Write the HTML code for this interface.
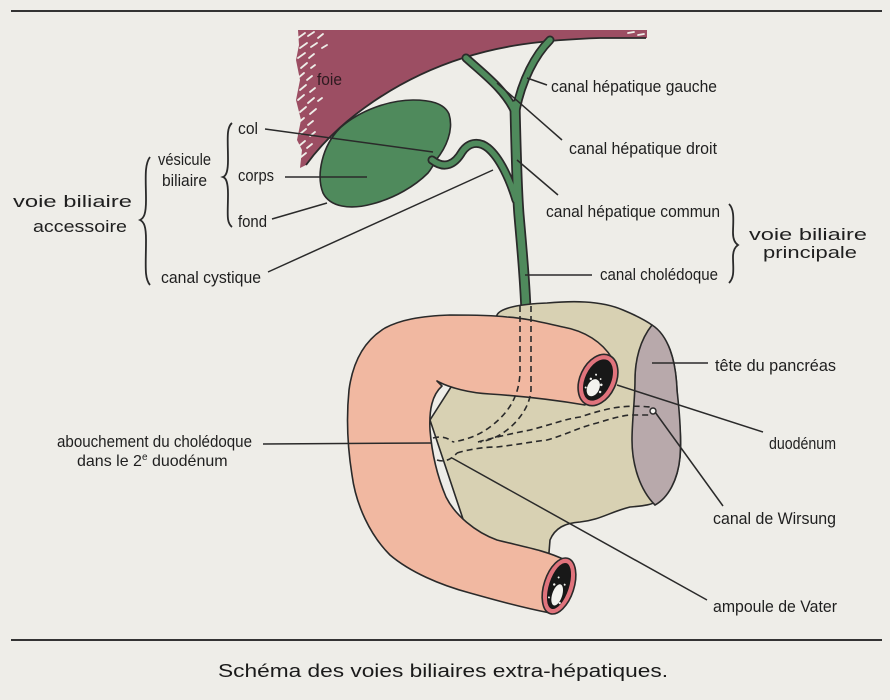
<!DOCTYPE html>
<html><head><meta charset="utf-8"><style>
html,body{margin:0;padding:0;background:#eeede8;}
svg{display:block;}
text{font-family:"Liberation Sans",sans-serif;fill:#1f1f1f;}
.l{font-size:17px;}
.b{font-size:17px;}
</style></head><body>
<svg width="890" height="700" viewBox="0 0 890 700" xmlns="http://www.w3.org/2000/svg">
<rect width="890" height="700" fill="#eeede8"/>
<line x1="11" y1="11" x2="882" y2="11" stroke="#333" stroke-width="2"/>
<line x1="11" y1="640" x2="882" y2="640" stroke="#333" stroke-width="2"/>

<!-- liver -->
<path d="M298,30 L647,30 L647,38 L600,38 C540,40 500,46 463,58 C400,78 340,118 306,165 L300,168 L302,150 L297,140 L301,120 L296,100 L300,80 L296,60 L299,45 Z" fill="#9c4e63"/>
<g stroke="#eeede8" stroke-width="1.8" stroke-linecap="round">
<line x1="298" y1="38" x2="305" y2="33"/><line x1="308" y1="36" x2="314" y2="32"/><line x1="318" y1="38" x2="323" y2="34"/>
<line x1="300" y1="48" x2="307" y2="43"/><line x1="311" y1="47" x2="317" y2="43"/><line x1="322" y1="48" x2="327" y2="45"/>
<line x1="298" y1="58" x2="305" y2="53"/><line x1="309" y1="58" x2="314" y2="54"/>
<line x1="301" y1="68" x2="307" y2="63"/><line x1="311" y1="68" x2="315" y2="65"/>
<line x1="298" y1="78" x2="304" y2="73"/><line x1="307" y1="80" x2="312" y2="76"/>
<line x1="300" y1="90" x2="306" y2="85"/><line x1="310" y1="92" x2="315" y2="88"/>
<line x1="298" y1="100" x2="304" y2="95"/><line x1="308" y1="103" x2="314" y2="98"/><line x1="318" y1="101" x2="322" y2="98"/>
<line x1="300" y1="112" x2="306" y2="107"/><line x1="310" y1="114" x2="316" y2="109"/>
<line x1="298" y1="123" x2="304" y2="118"/><line x1="308" y1="125" x2="313" y2="121"/>
<line x1="300" y1="134" x2="306" y2="129"/><line x1="310" y1="136" x2="315" y2="132"/>
<line x1="299" y1="146" x2="305" y2="141"/><line x1="307" y1="148" x2="312" y2="144"/>
<line x1="301" y1="157" x2="306" y2="153"/>
<line x1="628" y1="33" x2="634" y2="32"/><line x1="638" y1="35" x2="644" y2="34"/>
</g>
<path d="M306,165 C340,118 400,78 463,58 C500,46 540,40 600,38 L646,38" fill="none" stroke="#2a2a2a" stroke-width="1.8"/>
<text x="317" y="85" font-size="17" textLength="25" lengthAdjust="spacingAndGlyphs" style="fill:#2e1a20">foie</text>

<!-- gallbladder -->
<path d="M436,160 C446,148 454,130 449,114 C444,103 430,100 413,100 C390,100 360,110 340,128 C322,146 316,175 323,193 C330,207 350,210 372,204 C395,198 415,186 428,173 C432,168 434,164 436,160 Z" fill="#4f8a5c" stroke="#2a2a2a" stroke-width="1.6"/>

<!-- ducts -->
<g fill="none" stroke-linecap="round" stroke-linejoin="round">
<path d="M432,160 C445,170 455,164 462,152 C468,143 478,140 488,148 C500,158 510,180 516,200" stroke="#2a2a2a" stroke-width="9"/>
<path d="M466,58 C485,75 505,90 515,112" stroke="#2a2a2a" stroke-width="9"/>
<path d="M550,40 C535,55 522,80 516,110" stroke="#2a2a2a" stroke-width="9"/>
<path d="M515,105 C516,150 517,190 519,215 C522,250 525,280 526,312" stroke="#2a2a2a" stroke-width="11"/>
<path d="M432,160 C445,170 455,164 462,152 C468,143 478,140 488,148 C500,158 510,180 516,200" stroke="#4f8a5c" stroke-width="5.5"/>
<path d="M466,58 C485,75 505,90 515,112" stroke="#4f8a5c" stroke-width="5.5"/>
<path d="M550,40 C535,55 522,80 516,110" stroke="#4f8a5c" stroke-width="5.5"/>
<path d="M515,105 C516,150 517,190 519,215 C522,250 525,280 526,312" stroke="#4f8a5c" stroke-width="7.5"/>
</g>

<!-- pancreas -->
<path d="M497,315 C500,308 520,304 547,303 C570,301 600,300 623,310 C635,315 645,320 652,325 C665,335 675,350 677,390 C679,420 682,440 680,457 C678,475 672,492 660,500 C650,506 640,506 630,507 C610,512 600,520 580,522 C565,523 555,528 550,540 L548,565 L470,540 L430,420 Z" fill="#d8d1b3" stroke="#2a2a2a" stroke-width="1.6"/>
<path d="M652,325 C640,340 635,360 635,380 C635,400 632,420 632,440 C632,465 640,490 655,505 C668,498 678,480 680,457 C682,430 678,400 677,390 C676,360 668,335 652,325 Z" fill="#b8a9ab" stroke="#2a2a2a" stroke-width="1.6"/>

<!-- duodenum -->
<path d="M612,358 C602,342 585,331 563,327 C545,323 525,318 507,317 C490,315 470,315 450,315 C420,316 400,320 385,328 C365,340 353,360 349,390 C346,420 348,450 352,475 C356,505 370,535 390,555 C410,572 440,585 470,593 C495,600 520,607 550,613 L565,560 C545,550 520,546 497,540 C475,532 455,515 446,497 C438,478 432,455 430,430 C429,410 432,395 442,386 L437,381 C450,388 470,393 490,394 C520,396 555,400 585,405 Z" fill="#f1b8a1" stroke="#2a2a2a" stroke-width="1.6" stroke-linejoin="round"/>

<!-- openings -->
<g transform="translate(598,380) rotate(25)">
<ellipse rx="18" ry="27" fill="#e0737c" stroke="#2a2a2a" stroke-width="1.6"/>
<ellipse rx="13" ry="22" fill="#181818"/>
<ellipse cx="-1" cy="9" rx="6" ry="9" fill="#f2f2ee"/>
<g fill="#f2f2ee"><circle cx="-7" cy="2" r="1.2"/><circle cx="5" cy="3" r="1.3"/><circle cx="-4" cy="-4" r="1"/><circle cx="7" cy="10" r="1.2"/><circle cx="-8" cy="12" r="1"/><circle cx="2" cy="-2" r="0.9"/></g>
</g>
<g transform="translate(559,586) rotate(18)">
<ellipse rx="15" ry="29" fill="#e0737c" stroke="#2a2a2a" stroke-width="1.6"/>
<ellipse rx="10" ry="24" fill="#181818"/>
<ellipse cx="1" cy="9" rx="5" ry="11" fill="#f2f2ee"/>
<g fill="#f2f2ee"><circle cx="-5" cy="0" r="1.2"/><circle cx="5" cy="-3" r="1"/><circle cx="-3" cy="-8" r="1"/><circle cx="6" cy="16" r="1.1"/><circle cx="-6" cy="14" r="1"/></g>
</g>

<!-- dashed ducts -->
<g fill="none" stroke="#2a2a2a" stroke-width="1.6" stroke-dasharray="6,4">
<path d="M520,306 L520,373 C519,395 510,412 490,427 C478,436 465,440 453,442"/>
<path d="M531,306 L531,390 C530,405 520,420 507,430 C498,437 490,440 480,442"/>
<path d="M433,438 C440,436 447,437 453,442"/>
<path d="M437,460 C443,462 450,461 457,453"/>
<path d="M478,442 C495,437 515,433 530,430 C550,425 565,419 580,417 C595,412 610,408 620,407 C630,406 640,406 650,407"/>
<path d="M457,453 C470,449 485,447 497,447 C515,445 530,442 547,440 C565,435 580,427 597,423 C610,419 620,416 630,415 C638,415 645,415 650,415"/>
</g>
<circle cx="653" cy="411" r="3" fill="#f4f4f0" stroke="#2a2a2a" stroke-width="1.4"/>

<!-- leader lines -->
<g stroke="#2a2a2a" stroke-width="1.5" fill="none">
<line x1="265" y1="129" x2="433" y2="152"/>
<line x1="285" y1="177" x2="367" y2="177"/>
<line x1="272" y1="219" x2="327" y2="203"/>
<line x1="268" y1="272" x2="493" y2="170"/>
<line x1="527" y1="78" x2="547" y2="85"/>
<line x1="497" y1="83" x2="562" y2="140"/>
<line x1="517" y1="160" x2="558" y2="195"/>
<line x1="525" y1="275" x2="592" y2="275"/>
<line x1="652" y1="363" x2="708" y2="363"/>
<line x1="617" y1="385" x2="763" y2="432"/>
<line x1="655" y1="412" x2="723" y2="506"/>
<line x1="452" y1="458" x2="707" y2="600"/>
<line x1="263" y1="444" x2="432" y2="443"/>
</g>

<!-- braces -->
<g stroke="#2a2a2a" stroke-width="1.8" fill="none">
<path d="M232,123 C226,128 228,140 228,160 C228,172 226,176 223,177 C226,178 228,182 228,194 C228,214 226,222 232,227"/>
<path d="M150,157 C144,165 146,180 146,200 C146,214 144,218 140,220 C144,222 146,226 146,240 C146,265 144,278 150,285"/>
<path d="M729,204 C735,210 733,222 733,233 C733,240 735,243 738,245 C735,247 733,250 733,257 C733,268 735,277 729,283"/>
</g>

<!-- labels -->
<text class="l" x="238" y="134" textLength="20" lengthAdjust="spacingAndGlyphs">col</text>
<text class="l" x="238" y="181" textLength="36" lengthAdjust="spacingAndGlyphs">corps</text>
<text class="l" x="238" y="227" textLength="29" lengthAdjust="spacingAndGlyphs">fond</text>
<text class="l" x="161" y="283" textLength="100" lengthAdjust="spacingAndGlyphs">canal cystique</text>
<text class="l" x="158" y="165" textLength="53" lengthAdjust="spacingAndGlyphs">vésicule</text>
<text class="l" x="162" y="186" textLength="45" lengthAdjust="spacingAndGlyphs">biliaire</text>
<text class="b" x="13" y="207" textLength="119" lengthAdjust="spacingAndGlyphs">voie biliaire</text>
<text class="b" x="33" y="232" textLength="94" lengthAdjust="spacingAndGlyphs">accessoire</text>

<text class="l" x="551" y="92" textLength="166" lengthAdjust="spacingAndGlyphs">canal hépatique gauche</text>
<text class="l" x="569" y="154" textLength="148" lengthAdjust="spacingAndGlyphs">canal hépatique droit</text>
<text class="l" x="546" y="217" textLength="174" lengthAdjust="spacingAndGlyphs">canal hépatique commun</text>
<text class="l" x="600" y="280" textLength="118" lengthAdjust="spacingAndGlyphs">canal cholédoque</text>
<text class="b" x="749" y="240" textLength="118" lengthAdjust="spacingAndGlyphs">voie biliaire</text>
<text class="b" x="763" y="258" textLength="94" lengthAdjust="spacingAndGlyphs">principale</text>

<text class="l" x="715" y="371" textLength="121" lengthAdjust="spacingAndGlyphs">tête du pancréas</text>
<text class="l" x="769" y="449" textLength="67" lengthAdjust="spacingAndGlyphs">duodénum</text>
<text class="l" x="713" y="524" textLength="123" lengthAdjust="spacingAndGlyphs">canal de Wirsung</text>
<text class="l" x="713" y="612" textLength="124" lengthAdjust="spacingAndGlyphs">ampoule de Vater</text>

<text class="l" x="57" y="447" textLength="195" lengthAdjust="spacingAndGlyphs">abouchement du cholédoque</text>
<text x="77" y="466" font-size="16">
  <tspan>dans le 2</tspan><tspan font-size="10" dy="-6">e</tspan><tspan dy="6"> duodénum</tspan>
</text>

<text x="218" y="677" font-size="18" textLength="450" lengthAdjust="spacingAndGlyphs" style="fill:#1a1a1a">Schéma des voies biliaires extra-hépatiques.</text>
</svg>
</body></html>
